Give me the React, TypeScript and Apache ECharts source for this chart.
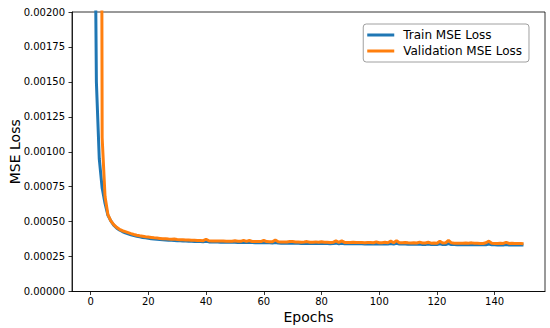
import React, { useEffect, useRef } from "react";
import * as echarts from "echarts";

const epochs: number[] = Array.from({ length: 150 }, (_, i) => i + 1);

const trainLoss: number[] = [
  0.0040, 0.0015, 0.00095, 0.00074, 0.00063, 0.000545, 0.000505, 0.000475, 0.000455, 0.00044,
  0.000429, 0.00042, 0.000413, 0.000406, 0.0004, 0.000395, 0.000391, 0.000387, 0.000384, 0.000381,
  0.000378, 0.000376, 0.000374, 0.000372, 0.00037, 0.000368, 0.000367, 0.000366, 0.000365, 0.000364,
  0.000363, 0.000362, 0.000361, 0.00036, 0.000359, 0.000358, 0.000357, 0.000357, 0.000356, 0.000359,
  0.000355, 0.000355, 0.000354, 0.000354, 0.000353, 0.000353, 0.000352, 0.000352, 0.000352, 0.000353,
  0.000351, 0.000351, 0.000353, 0.00035, 0.000352, 0.00035, 0.000349, 0.000349, 0.000349, 0.000351,
  0.000348, 0.000348, 0.000347, 0.00035, 0.000347, 0.000346, 0.000346, 0.000346, 0.000347, 0.000346,
  0.000345, 0.000345, 0.000344, 0.000345, 0.000344, 0.000344, 0.000344, 0.000343, 0.000344, 0.000343,
  0.000343, 0.000343, 0.000342, 0.000343, 0.000346, 0.000342, 0.000345, 0.000342, 0.000342, 0.000341,
  0.000341, 0.000341, 0.000342, 0.000341, 0.00034, 0.00034, 0.000341, 0.00034, 0.000342, 0.00034,
  0.00034, 0.000339, 0.00034, 0.000344, 0.000339, 0.000345, 0.000339, 0.000339, 0.00034, 0.000338,
  0.000338, 0.000338, 0.000338, 0.00034, 0.000337, 0.000337, 0.000339, 0.000337, 0.000337, 0.000336,
  0.000341, 0.000337, 0.000336, 0.000343, 0.000336, 0.000336, 0.000335, 0.000336, 0.000335, 0.000335,
  0.000336, 0.000335, 0.000335, 0.000334, 0.000334, 0.000334, 0.000335, 0.000339, 0.000334, 0.000334,
  0.000333, 0.000333, 0.000333, 0.000336, 0.000333, 0.000333, 0.000332, 0.000332, 0.000333, 0.000332,
];

const valLoss: number[] = [
  0.03, 0.02, 0.0106, 0.0011, 0.00068, 0.00055, 0.000505, 0.000478, 0.000459, 0.000445,
  0.000435, 0.000428, 0.000421, 0.000414, 0.000408, 0.000403, 0.000399, 0.000396, 0.000392, 0.00039,
  0.000387, 0.000384, 0.000382, 0.00038, 0.000378, 0.000377, 0.000375, 0.000374, 0.000375, 0.000372,
  0.000371, 0.00037, 0.000369, 0.000368, 0.000367, 0.000366, 0.000365, 0.000365, 0.000364, 0.000374,
  0.000363, 0.000362, 0.000362, 0.000362, 0.000361, 0.000361, 0.00036, 0.00036, 0.00036, 0.000363,
  0.000359, 0.000359, 0.000366, 0.000359, 0.000365, 0.000358, 0.000358, 0.000357, 0.000357, 0.000366,
  0.000357, 0.000356, 0.000356, 0.000369, 0.000356, 0.000355, 0.000355, 0.000354, 0.000358, 0.000357,
  0.000354, 0.000354, 0.000353, 0.000354, 0.000357, 0.000353, 0.000353, 0.000355, 0.000352, 0.000356,
  0.000352, 0.000352, 0.000351, 0.000352, 0.000362, 0.000352, 0.000362, 0.000351, 0.000351, 0.00035,
  0.000352, 0.00035, 0.000351, 0.00035, 0.000349, 0.000351, 0.00035, 0.000349, 0.000355, 0.000349,
  0.000349, 0.000352, 0.000349, 0.00036, 0.000349, 0.000364, 0.000349, 0.000348, 0.00035, 0.000348,
  0.000347, 0.000348, 0.000347, 0.000353, 0.000347, 0.000347, 0.000352, 0.000346, 0.000347, 0.000346,
  0.00036, 0.000347, 0.000348, 0.000366, 0.000348, 0.000346, 0.000345, 0.000346, 0.000345, 0.000347,
  0.000346, 0.000348, 0.000345, 0.000345, 0.000344, 0.000344, 0.000349, 0.00036, 0.000345, 0.000344,
  0.000344, 0.000345, 0.000344, 0.000352, 0.000344, 0.000346, 0.000344, 0.000343, 0.000344, 0.000341,
];

const xTicks: number[] = [0, 20, 40, 60, 80, 100, 120, 140];
const seriesNames: string[] = ["Train MSE Loss", "Validation MSE Loss"];

const FONT = "DejaVu Sans";

export default function App() {
  const ref = useRef<HTMLDivElement>(null);
  useEffect(() => {
    if (!ref.current) return;
    const chart = echarts.init(ref.current, undefined, { renderer: "svg" });
    const axisLineStyle = { color: "#000", width: 0.8 };
    chart.setOption({
      animation: false,
      backgroundColor: "#fff",
      grid: {
        left: 72,
        right: 5,
        top: 12,
        bottom: 36.5,
        outerBoundsMode: "none",
        containLabel: false,
        show: true,
        borderColor: "#000",
        borderWidth: 0.8,
        backgroundColor: "transparent",
      },
      legend: {
        right: 21,
        top: 24,
        orient: "vertical",
        icon: "rect",
        itemWidth: 27,
        itemHeight: 3,
        itemGap: 2,
        padding: [4, 7, 4, 4],
        borderColor: "#a0a0a0",
        borderWidth: 1,
        borderRadius: 3,
        backgroundColor: "#ffffff",
        z: 10,
        textStyle: { fontFamily: FONT, fontSize: 12, color: "#000", padding: [0, 0, 0, 4], lineHeight: 14 },
        data: seriesNames,
      },
      xAxis: {
        type: "value",
        min: -6.45,
        max: 157.45,
        name: "Epochs",
        nameLocation: "middle",
        nameGap: 18,
        nameMoveOverlap: false,
        nameTextStyle: { fontFamily: FONT, fontSize: 14, color: "#000" },
        axisLine: { show: true, onZero: false, lineStyle: axisLineStyle },
        axisTick: { show: true, length: 3.5, lineStyle: axisLineStyle, customValues: xTicks },
        axisLabel: { fontFamily: FONT, fontSize: 10, color: "#000", margin: 5, customValues: xTicks },
        splitLine: { show: false },
      },
      yAxis: {
        type: "value",
        min: 0,
        max: 0.002,
        interval: 0.00025,
        name: "MSE Loss",
        nameLocation: "middle",
        nameGap: 50,
        nameMoveOverlap: false,
        nameTextStyle: { fontFamily: FONT, fontSize: 14, color: "#000" },
        axisLine: { show: true, onZero: false, lineStyle: axisLineStyle },
        axisTick: { show: true, length: 3.5, lineStyle: axisLineStyle },
        axisLabel: {
          fontFamily: FONT,
          fontSize: 10,
          color: "#000",
          margin: 7,
          formatter: (v: number) => v.toFixed(5),
        },
        splitLine: { show: false },
      },
      series: [
        {
          name: seriesNames[0],
          type: "line",
          data: epochs.map((e, i) => [e, trainLoss[i]]),
          showSymbol: false,
          symbol: "none",
          lineStyle: { color: "#1f77b4", width: 3 },
          itemStyle: { color: "#1f77b4" },
          clip: true,
        },
        {
          name: seriesNames[1],
          type: "line",
          data: epochs.map((e, i) => [e, valLoss[i]]),
          showSymbol: false,
          symbol: "none",
          lineStyle: { color: "#ff7f0e", width: 3 },
          itemStyle: { color: "#ff7f0e" },
          clip: true,
        },
      ],
    });
    return () => chart.dispose();
  }, []);
  return <div ref={ref} style={{ width: 550, height: 328, position: "absolute", left: 0, top: 0 }} />;
}
